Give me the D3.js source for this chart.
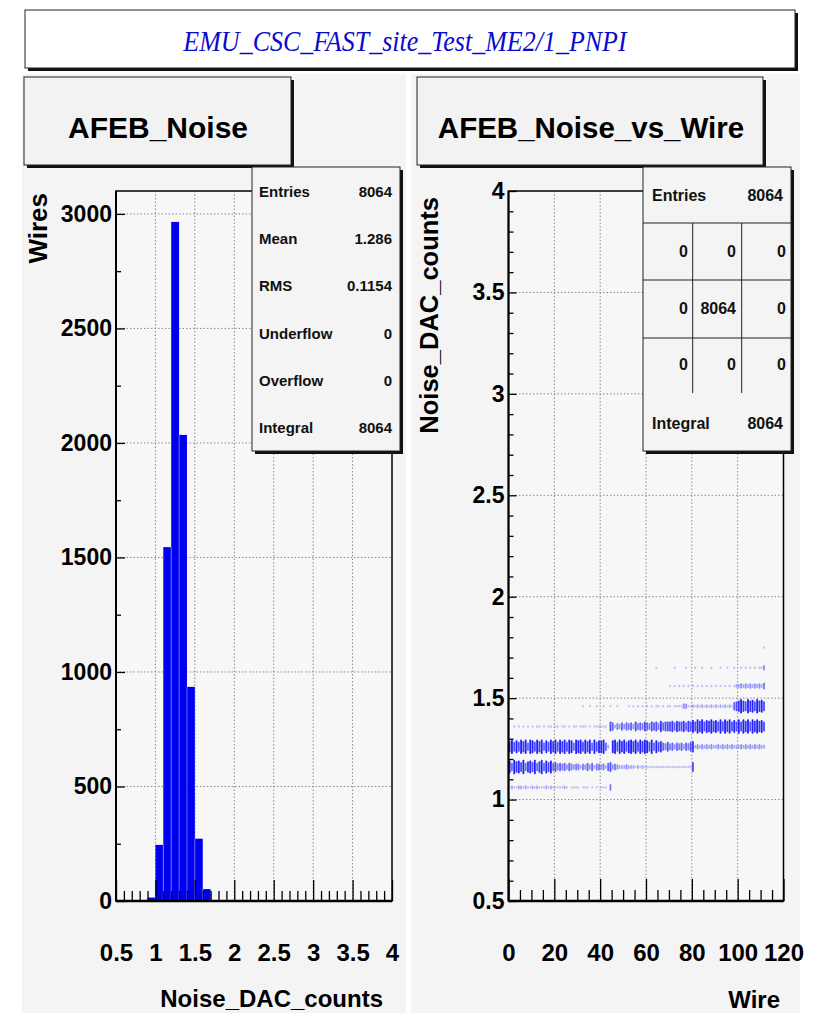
<!DOCTYPE html>
<html>
<head>
<meta charset="utf-8">
<script src="https://cdn.jsdelivr.net/npm/d3@7"></script>
<style>
  body { margin: 0; background: #ffffff; }
  svg { display: block; }
</style>
</head>
<body>
<svg id="canvas" width="819" height="1016"></svg>
<script>
// ---------------- data ----------------
const mainTitle = "EMU_CSC_FAST_site_Test_ME2/1_PNPI";

// AFEB_Noise histogram: lower bin edges (width 0.1) and contents
const noiseBinWidth = 0.1;
const noiseBinLow = [0.9, 1.0, 1.1, 1.2, 1.3, 1.4, 1.5, 1.6];
const noiseCounts = [15, 245, 1545, 2965, 2035, 935, 272, 52];

const noiseXTicks = [0.5, 1, 1.5, 2, 2.5, 3, 3.5, 4];
const wiresYTicks = [0, 500, 1000, 1500, 2000, 2500, 3000];

const statLabels = ["Entries", "Mean", "RMS", "Underflow", "Overflow", "Integral"];
const statValues = ["8064", "1.286", "0.1154", "0", "0", "8064"];

// AFEB_Noise_vs_Wire: noise bands and the occupancy level of each wire (0..111) in each band.
// One character per wire, level 0-9 (5 entries per level).
const bandNoise = [1.06, 1.16, 1.26, 1.36, 1.46, 1.56, 1.65, 1.75];
const bandLevels = [
  "1211221211" + "2121112121" + "1111210111" + "1011101010" + "1110400000" + "0000000000" +
  "0000000000" + "0000000000" + "0000000000" + "0000000000" + "000000000000",
  "8597869578" + "6957958685" + "6454535434" + "4243535244" + "3425634322" + "2322212121" +
  "1111111111" + "1111111111" + "6000000000" + "0000000000" + "000000000000",
  "7968697959" + "8697958697" + "9697969859" + "8969795968" + "8952089697" + "9689796979" +
  "8695867546" + "4535453546" + "7232323232" + "2323232322" + "232323232322",
  "0010101010" + "1011010110" + "1101101011" + "0111010111" + "1110652435" + "3545364546" +
  "5465647566" + "6757667576" + "8697968797" + "8696979686" + "969796979786",
  "0000000000" + "0000000000" + "0000000000" + "0010010010" + "0100100100" + "0010101010" +
  "1010110101" + "1011113311" + "2121212121" + "2121212156" + "797697869786",
  "0000000000" + "0000000000" + "0000000000" + "0000000000" + "0000000000" + "0000000000" +
  "0000000000" + "1010101010" + "1010101010" + "1010101012" + "232323232324",
  "0000000000" + "0000000000" + "0000000000" + "0000000000" + "0000000000" + "0000000000" +
  "0000100000" + "0010000100" + "0100100010" + "0010010010" + "010101010113",
  "0000000000" + "0000000000" + "0000000000" + "0000000000" + "0000000000" + "0000000000" +
  "0000000000" + "0000000000" + "0000000000" + "0000000000" + "000000000001"
];
const entriesPerLevel = 5;

const wireXTicks = [0, 20, 40, 60, 80, 100, 120];
const noiseYTicks = [0.5, 1, 1.5, 2, 2.5, 3, 3.5, 4];

const scatterEntries = "8064";
const scatterGrid = [["0", "0", "0"], ["0", "8064", "0"], ["0", "0", "0"]];
const scatterIntegral = "8064";

// ---------------- drawing ----------------
const svg = d3.select("#canvas");
const SANS = "'Liberation Sans', Arial, Helvetica, sans-serif";
const SERIF = "'Liberation Serif', 'Times New Roman', serif";
const PAD_FILL = "#f4f4f4";

svg.append("rect").attr("width", 819).attr("height", 1016).attr("fill", "#ffffff");

// pads
svg.append("rect").attr("x", 22).attr("y", 74).attr("width", 384).attr("height", 939).attr("fill", PAD_FILL);
svg.append("rect").attr("x", 411).attr("y", 74).attr("width", 389).attr("height", 939).attr("fill", PAD_FILL);

// box with a drop shadow on the right and bottom
function shadowBox(x, y, w, h, fill, sh) {
  svg.append("rect").attr("x", x + sh).attr("y", y + sh).attr("width", w).attr("height", h).attr("fill", "#111");
  svg.append("rect").attr("x", x).attr("y", y).attr("width", w).attr("height", h)
    .attr("fill", fill).attr("stroke", "#222").attr("stroke-width", 1);
}

// canvas title
shadowBox(25, 10, 770, 58, "#ffffff", 3);
svg.append("text").attr("transform", "translate(405,51) scale(1,1.12)").attr("text-anchor", "middle")
  .attr("font-family", SERIF).attr("font-style", "italic").attr("font-size", 26)
  .attr("fill", "#0a0acc").text(mainTitle);

// ---------- left pad: AFEB_Noise ----------
const xN = d3.scaleLinear().domain([0.5, 4]).range([116, 392]);
const yW = d3.scaleLinear().domain([0, 3100]).range([901, 191]);

const gL = svg.append("g");
gL.append("rect").attr("x", 116).attr("y", 191).attr("width", 276).attr("height", 710).attr("fill", "#f7f7f7");

// grid
gL.selectAll("line.gx").data(noiseXTicks.slice(1, -1)).join("line")
  .attr("x1", d => xN(d)).attr("x2", d => xN(d)).attr("y1", 191).attr("y2", 901)
  .attr("stroke", "#8a8a8a").attr("stroke-width", 1).attr("stroke-dasharray", "1.5,2");
gL.selectAll("line.gy").data(wiresYTicks.slice(1)).join("line")
  .attr("x1", 116).attr("x2", 392).attr("y1", d => yW(d)).attr("y2", d => yW(d))
  .attr("stroke", "#8a8a8a").attr("stroke-width", 1).attr("stroke-dasharray", "1.5,2");

// bars
gL.selectAll("rect.bar").data(noiseBinLow).join("rect")
  .attr("x", d => xN(d))
  .attr("width", d => xN(d + noiseBinWidth) - xN(d))
  .attr("y", (d, i) => yW(noiseCounts[i]))
  .attr("height", (d, i) => yW(0) - yW(noiseCounts[i]))
  .attr("fill", "#0000f0");
// faint seams between neighbouring bins
gL.selectAll("line.seam").data(noiseBinLow.slice(1)).join("line")
  .attr("x1", d => xN(d)).attr("x2", d => xN(d))
  .attr("y1", (d, i) => yW(Math.min(noiseCounts[i], noiseCounts[i + 1])))
  .attr("y2", yW(0))
  .attr("stroke", "#ffffff").attr("stroke-opacity", 0.45).attr("stroke-width", 0.8);

// axes (ticks inside the frame)
function styleAxis(g, size) {
  g.select(".domain").remove();
  g.selectAll("line").attr("stroke", "#000").attr("stroke-width", 1.3);
  g.selectAll("text").attr("font-family", SANS).attr("font-weight", "bold")
    .attr("font-size", size).attr("fill", "#000");
}
const noiseMinor = d3.range(5, 41).map(v => v / 10).filter(v => !noiseXTicks.includes(v));
gL.append("g").attr("transform", "translate(0,901)")
  .call(d3.axisBottom(xN).tickValues(noiseMinor).tickSize(-10).tickFormat(""))
  .call(g => styleAxis(g, 24));
gL.append("g").attr("transform", "translate(0,901)")
  .call(d3.axisBottom(xN).tickValues(noiseXTicks).tickSize(-21).tickPadding(43).tickFormat(d => String(d)))
  .call(g => styleAxis(g, 24));
const wiresMinor = d3.range(250, 3100, 500);
gL.append("g").attr("transform", "translate(116,0)")
  .call(d3.axisLeft(yW).tickValues(wiresMinor).tickSize(-5).tickFormat(""))
  .call(g => styleAxis(g, 23));
gL.append("g").attr("transform", "translate(116,0)")
  .call(d3.axisLeft(yW).tickValues(wiresYTicks).tickSize(-9).tickPadding(4).tickFormat(d => String(d)))
  .call(g => styleAxis(g, 23));

// frame
gL.append("rect").attr("x", 116).attr("y", 191).attr("width", 276).attr("height", 710)
  .attr("fill", "none").attr("stroke", "#000").attr("stroke-width", 1.5);
gL.append("line").attr("x1", 116).attr("x2", 392).attr("y1", 901).attr("y2", 901).attr("stroke", "#000").attr("stroke-width", 2.5);
gL.append("line").attr("x1", 116).attr("x2", 116).attr("y1", 191).attr("y2", 901).attr("stroke", "#000").attr("stroke-width", 2);

// axis titles
gL.append("text").attr("transform", "translate(47,193) rotate(-90)").attr("text-anchor", "end")
  .attr("font-family", SANS).attr("font-weight", "bold").attr("font-size", 26).text("Wires");
gL.append("text").attr("x", 383).attr("y", 1007).attr("text-anchor", "end")
  .attr("font-family", SANS).attr("font-weight", "bold").attr("font-size", 24).text("Noise_DAC_counts");

// pad title
shadowBox(24, 77, 267, 88, "#f2f2f2", 3);
svg.append("text").attr("x", 158).attr("y", 138).attr("text-anchor", "middle")
  .attr("font-family", SANS).attr("font-weight", "bold").attr("font-size", 30).text("AFEB_Noise");

// statistics box
shadowBox(252, 167, 148, 284, "#f4f4f4", 3);
statLabels.forEach((lab, i) => {
  const cy = 192 + i * 47.2;
  svg.append("text").attr("x", 259).attr("y", cy + 5).attr("font-family", SANS).attr("font-weight", "bold")
    .attr("font-size", 15).attr("fill", "#111").text(lab);
  svg.append("text").attr("x", 392).attr("y", cy + 5).attr("text-anchor", "end").attr("font-family", SANS)
    .attr("font-weight", "bold").attr("font-size", 15).attr("fill", "#111").text(statValues[i]);
});

// ---------- right pad: AFEB_Noise_vs_Wire ----------
const xWire = d3.scaleLinear().domain([0, 120]).range([508.5, 783.5]);
const yNs = d3.scaleLinear().domain([0.5, 4]).range([901, 191]);

const gR = svg.append("g");
gR.append("rect").attr("x", 508.5).attr("y", 191).attr("width", 275).attr("height", 710).attr("fill", "#f7f7f7");
gR.selectAll("line.gx").data(wireXTicks.slice(1, -1)).join("line")
  .attr("x1", d => xWire(d)).attr("x2", d => xWire(d)).attr("y1", 191).attr("y2", 901)
  .attr("stroke", "#8a8a8a").attr("stroke-width", 1).attr("stroke-dasharray", "1.5,2");
gR.selectAll("line.gy").data(noiseYTicks.slice(1, -1)).join("line")
  .attr("x1", 508.5).attr("x2", 783.5).attr("y1", d => yNs(d)).attr("y2", d => yNs(d))
  .attr("stroke", "#8a8a8a").attr("stroke-width", 1).attr("stroke-dasharray", "1.5,2");

// occupancy cells: one short vertical mark per wire and band, size and strength follow the level
const cells = [];
bandLevels.forEach((s, b) => {
  for (let w = 0; w < s.length; w++) {
    const lev = +s[w];
    if (lev > 0) cells.push({ wire: w, noise: bandNoise[b], level: lev, count: lev * entriesPerLevel });
  }
});
const cellW = (xWire(1) - xWire(0)) * 0.8;
gR.selectAll("rect.cell").data(cells).join("rect")
  .attr("x", d => xWire(d.wire + 0.5) - cellW / 2)
  .attr("width", cellW)
  .attr("y", d => yNs(d.noise) - (1 + d.count * 0.3) / 2)
  .attr("height", d => 1 + d.count * 0.3)
  .attr("rx", 0.8)
  .attr("fill", "#1f1fff")
  .attr("fill-opacity", d => Math.min(1, 0.15 + d.count * 0.021));

const wireMinor = d3.range(0, 121, 5).filter(v => !wireXTicks.includes(v));
gR.append("g").attr("transform", "translate(0,901)")
  .call(d3.axisBottom(xWire).tickValues(wireMinor).tickSize(-11).tickFormat(""))
  .call(g => styleAxis(g, 24));
gR.append("g").attr("transform", "translate(0,901)")
  .call(d3.axisBottom(xWire).tickValues(wireXTicks).tickSize(-22).tickPadding(43).tickFormat(d => String(d)))
  .call(g => styleAxis(g, 24));
const noiseYMinor = d3.range(5, 41).map(v => v / 10).filter(v => !noiseYTicks.includes(v));
gR.append("g").attr("transform", "translate(508.5,0)")
  .call(d3.axisLeft(yNs).tickValues(noiseYMinor).tickSize(-5).tickFormat(""))
  .call(g => styleAxis(g, 23));
gR.append("g").attr("transform", "translate(508.5,0)")
  .call(d3.axisLeft(yNs).tickValues(noiseYTicks).tickSize(-8).tickPadding(4).tickFormat(d => String(d)))
  .call(g => styleAxis(g, 23));

gR.append("rect").attr("x", 508.5).attr("y", 191).attr("width", 275).attr("height", 710)
  .attr("fill", "none").attr("stroke", "#000").attr("stroke-width", 1.5);
gR.append("line").attr("x1", 508.5).attr("x2", 783.5).attr("y1", 901).attr("y2", 901).attr("stroke", "#000").attr("stroke-width", 2.5);
gR.append("line").attr("x1", 508.5).attr("x2", 508.5).attr("y1", 191).attr("y2", 901).attr("stroke", "#000").attr("stroke-width", 2);

gR.append("text").attr("transform", "translate(438,197) rotate(-90)").attr("text-anchor", "end")
  .attr("font-family", SANS).attr("font-weight", "bold").attr("font-size", 25.5).text("Noise_DAC_counts");
gR.append("text").attr("x", 780).attr("y", 1008).attr("text-anchor", "end")
  .attr("font-family", SANS).attr("font-weight", "bold").attr("font-size", 24).text("Wire");

shadowBox(417, 77, 346, 88, "#f2f2f2", 3);
svg.append("text").attr("x", 591).attr("y", 138).attr("text-anchor", "middle")
  .attr("font-family", SANS).attr("font-weight", "bold").attr("font-size", 29.5).text("AFEB_Noise_vs_Wire");

// 2D statistics box: entries, 3x3 under/overflow grid, integral
const sb = { x: 643, y: 167, w: 148, h: 284 };
shadowBox(sb.x, sb.y, sb.w, sb.h, "#f4f4f4", 3);
const rowLines = [223, 280, 338];
const colLines = [692.7, 741.7];
rowLines.forEach(y => svg.append("line").attr("x1", sb.x).attr("x2", sb.x + sb.w).attr("y1", y).attr("y2", y)
  .attr("stroke", "#222").attr("stroke-width", 1));
colLines.forEach(x => svg.append("line").attr("x1", x).attr("x2", x).attr("y1", 223).attr("y2", 393)
  .attr("stroke", "#222").attr("stroke-width", 1));
function boxText(x, y, s, anchor) {
  svg.append("text").attr("x", x).attr("y", y).attr("text-anchor", anchor).attr("font-family", SANS)
    .attr("font-weight", "bold").attr("font-size", 16).attr("fill", "#111").text(s);
}
boxText(652, 201, "Entries", "start");
boxText(783, 201, scatterEntries, "end");
const colRight = [688, 736, 786];
const rowCenter = [251, 308, 364];
scatterGrid.forEach((row, r) => row.forEach((v, c) => boxText(colRight[c], rowCenter[r] + 6, v, "end")));
boxText(652, 429, "Integral", "start");
boxText(783, 429, scatterIntegral, "end");
</script>
</body>
</html>
